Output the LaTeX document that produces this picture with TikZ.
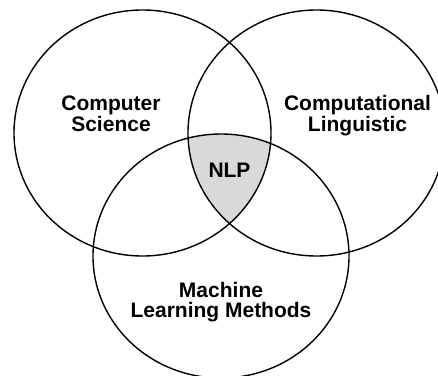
\documentclass[tikz,border=0pt]{standalone}
\usepackage{fontspec}
\setmainfont{Liberation Sans}
\usepackage{tikz}
\usetikzlibrary{positioning}
\tikzstyle{Set} = [line width=1.4pt]
\tikzstyle{Label} = [font=\fontsize{21}{20.5}\selectfont\bfseries, align=center]

\begin{document}
\begin{tikzpicture}[x=1pt, y=-1pt]
	\clip (0,0) rectangle (438,375);
	\fill[white] (0,0) rectangle (438,375);
	
	% shared part of the three sets
	\begin{scope}
		\clip (142.5,133) ellipse [x radius=128.5, y radius=123];
		\clip (316.5,133) ellipse [x radius=128.5, y radius=123];
		\fill[black!15] (221,256) ellipse [x radius=128, y radius=122];
	\end{scope}
	
	\draw[Set] (142.5,133) ellipse [x radius=128.5, y radius=123];
	\draw[Set] (316.5,133) ellipse [x radius=128.5, y radius=123];
	\draw[Set] (221,256) ellipse [x radius=128, y radius=122];
	
	\node[Label] (1) at (111,114) {Computer\\Science};
	\node[Label] (2) at (357.5,115.5) {Computational\\Linguistic};
	\node[Label] (3) at (229.5,170.5) {NLP};
	\node[Label] (4) at (221,302) {Machine\\Learning Methods};
\end{tikzpicture}
\end{document}
